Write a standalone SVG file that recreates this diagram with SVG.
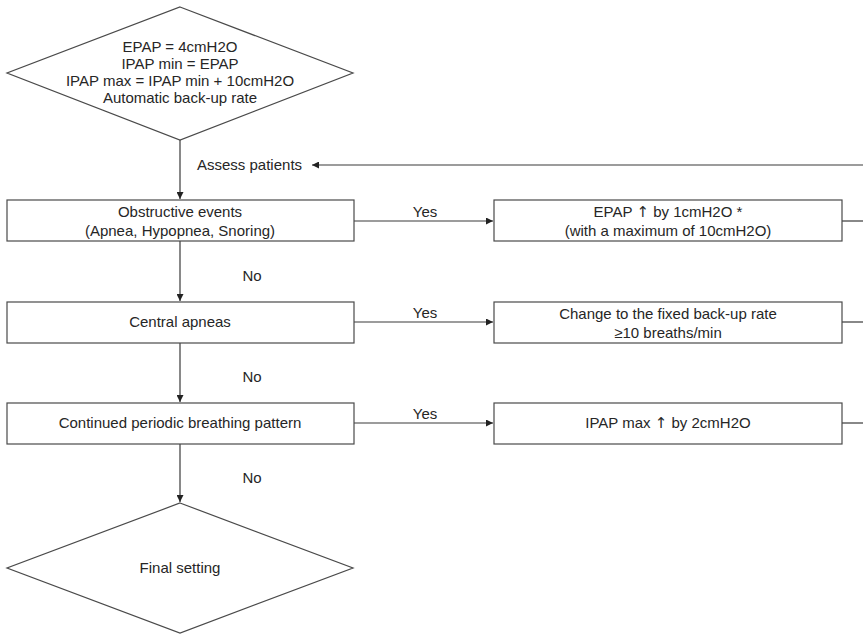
<svg xmlns="http://www.w3.org/2000/svg" width="863" height="637" viewBox="0 0 863 637">
<defs>
<style>
.n{fill:#fff;stroke:#4a4a4a;stroke-width:1.2}
.c{fill:none;stroke:#3a3a3a;stroke-width:1.2}
text{font-family:"Liberation Sans",Arial,sans-serif;font-size:15px;fill:#262626;text-anchor:middle}
.l{text-anchor:start}
.ar{font-family:"DejaVu Sans",sans-serif}
</style>
<marker id="ah" viewBox="0 0 10 10" refX="10" refY="5" markerWidth="7" markerHeight="7" markerUnits="userSpaceOnUse" orient="auto">
<path d="M0,0 L10,5 L0,10 z" fill="#222"/>
</marker>
</defs>
<rect width="863" height="637" fill="#fff"/>
<g id="connectors">
<path class="c" d="M180,140 V199" marker-end="url(#ah)"/>
<path class="c" d="M863,165 H312" marker-end="url(#ah)"/>
<path class="c" d="M354,221 H493" marker-end="url(#ah)"/>
<path class="c" d="M842,221 H863"/>
<path class="c" d="M180,241 V301" marker-end="url(#ah)"/>
<path class="c" d="M354,322 H493" marker-end="url(#ah)"/>
<path class="c" d="M842,322 H863"/>
<path class="c" d="M180,343 V402" marker-end="url(#ah)"/>
<path class="c" d="M354,423 H493" marker-end="url(#ah)"/>
<path class="c" d="M842,423 H863"/>
<path class="c" d="M180,444 V502" marker-end="url(#ah)"/>
<text class="l" x="197" y="170">Assess patients</text>
<text x="425" y="217">Yes</text>
<text x="425" y="318">Yes</text>
<text x="425" y="419">Yes</text>
<text x="252" y="281">No</text>
<text x="252" y="382">No</text>
<text x="252" y="483">No</text>
</g>
<g id="start">
<polygon class="n" points="180,7 353,73 180,140 7,73"/>
<text x="180" y="52">EPAP = 4cmH2O</text>
<text x="180" y="69">IPAP min = EPAP</text>
<text x="180" y="86">IPAP max = IPAP min + 10cmH2O</text>
<text x="180" y="103">Automatic back-up rate</text>
</g>
<g id="obstructive">
<rect class="n" x="7" y="200" width="347" height="41"/>
<text x="180" y="217">Obstructive events</text>
<text x="180" y="236">(Apnea, Hypopnea, Snoring)</text>
</g>
<g id="epap-up">
<rect class="n" x="494" y="200" width="348" height="41"/>
<text x="668" y="217">EPAP <tspan class="ar">↑</tspan> by 1cmH2O *</text>
<text x="668" y="236">(with a maximum of 10cmH2O)</text>
</g>
<g id="central">
<rect class="n" x="7" y="302" width="347" height="41"/>
<text x="180" y="327">Central apneas</text>
</g>
<g id="backup">
<rect class="n" x="494" y="302" width="348" height="41"/>
<text x="668" y="319">Change to the fixed back-up rate</text>
<text x="668" y="338">≥10 breaths/min</text>
</g>
<g id="periodic">
<rect class="n" x="7" y="403" width="347" height="41"/>
<text x="180" y="428">Continued periodic breathing pattern</text>
</g>
<g id="ipap-up">
<rect class="n" x="494" y="403" width="348" height="41"/>
<text x="668" y="428">IPAP max <tspan class="ar">↑</tspan> by 2cmH2O</text>
</g>
<g id="final">
<polygon class="n" points="180,503 353,568 180,633 7,568"/>
<text x="180" y="573">Final setting</text>
</g>
</svg>
